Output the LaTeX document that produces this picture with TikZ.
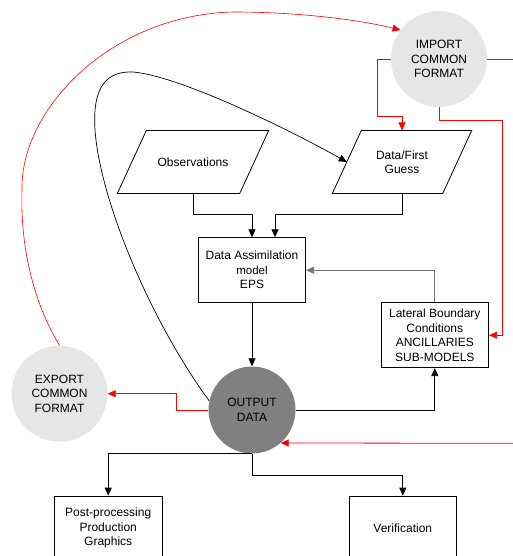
\documentclass[tikz,border=0pt]{standalone}
\usepackage{fontspec}
\setmainfont{Liberation Sans}
\usetikzlibrary{arrows.meta,calc}
\definecolor{lightc}{HTML}{E6E6E6}
\definecolor{darkc}{HTML}{808080}
\definecolor{redc}{HTML}{FF0000}
\begin{document}
\begin{tikzpicture}[x=1pt,y=-1pt,
  txt/.style={font=\fontsize{12}{14.5}\selectfont, align=center, inner sep=0pt},
  box/.style={txt, draw, line width=0.8pt},
  circ/.style={txt, circle, fill=lightc, minimum size=96pt},
  para/.style={txt, minimum height=62.6pt},
  arr/.style={-{Triangle[length=8pt,width=7pt]}, line width=0.8pt},
  redarr/.style={arr, draw=redc},
  redline/.style={line width=0.8pt, draw=redc}]
\useasboundingbox (0,0) rectangle (513,556);
\clip (0,0) rectangle (513,556);

% circles
\node[circ] (imp) at (439,59) {IMPORT\\COMMON\\FORMAT};
\node[circ] (exp) at (59.5,393.7) {EXPORT\\COMMON\\FORMAT};
\node[circ, fill=darkc, minimum size=87pt] (out) at (252,410) {OUTPUT\\DATA};

% parallelograms
\node[para, minimum width=122pt] (obs) at (193,162) {Observations};
\node[para, minimum width=110pt] (dfg) at (402,162) {Data/First\\Guess};
\foreach \n in {obs,dfg}{
  \draw[line width=0.8pt] ([xshift=14.5pt]\n.north west) -- ([xshift=14.5pt]\n.north east)
    -- ([xshift=-14.5pt]\n.south east) -- ([xshift=-14.5pt]\n.south west) -- cycle;
}

% boxes
\node[box, minimum width=107.4pt, minimum height=65pt] (da) at (252,270.2)
  {Data Assimilation\\{\fontsize{11.5}{14}\selectfont model}\\EPS};
\node[box, minimum width=107.7pt, minimum height=65pt] (lbc) at (434.8,335.2)
  {Lateral Boundary\\Conditions\\ANCILLARIES\\SUB-MODELS};
\node[box, minimum width=108.3pt, minimum height=64pt] (pp) at (108.2,528)
  {Post-processing\\Production\\Graphics};
\node[box, minimum width=107.7pt, minimum height=64pt] (ver) at (402.8,528)
  {Verification};

% black connectors
\draw[arr] (obs.south) -- ++(0,21) -| (da.north);
\draw[arr] (dfg.south) -- ++(0,21) -| ([xshift=23pt]da.north);
\draw[arr] (da.south) -- (out.north);
\draw[arr, draw=black!55] (lbc.north) |- (da.east);
\draw[arr] (out.east) -| (lbc.south);
\draw[arr] (out.south) -| (pp.north);
\draw[arr] (out.south) -- ++(0,21.3) -| (ver.north);
\draw[arr, line width=0.7pt] (out.168) .. controls (150,320) and (100,200) .. (95,130)
  .. controls (92,85) and (108,71) .. (133,72)
  .. controls (180,76) and (290,130) .. (dfg.west);

% red connectors
\coordinate (impout) at (513,59);
\coordinate (redin) at (513,443.3);
\draw[redarr] (out.west) -- ++(-32,0) |- (exp.east);
\draw[redarr] (redin) -- (out.-49.3);
\draw[redarr] (imp.west) -- ++(-13.3,0) -- ++(0,57.7) -| (dfg.north);
\draw[redline] (imp.east) -- (impout);
\draw[redarr] (imp.south) -- ++(0,13) -| ([xshift=13pt]lbc.east) -- (lbc.east);
\draw[redarr, line width=0.6pt] (exp.north) .. controls (35,305) and (20,250) .. (22,190)
  .. controls (20,110) and (110,15) .. (233,12)
  .. controls (300,12) and (360,20) .. (imp.143);
\end{tikzpicture}
\end{document}
